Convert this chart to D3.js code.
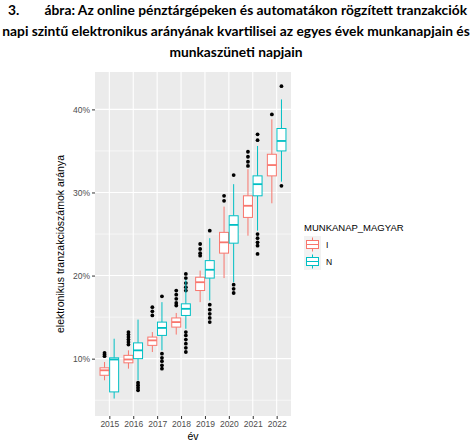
<!DOCTYPE html>
<html>
<head>
<meta charset="utf-8">
<script src="https://cdn.jsdelivr.net/npm/d3@7"></script>
<style>
  body { margin: 0; background: #fff; }
  svg { display: block; }
</style>
</head>
<body>
<svg id="chart" width="474" height="444"></svg>
<script>
// Adatok (leolvasva az ábráról)
const years = ["2015", "2016", "2017", "2018", "2019", "2020", "2021", "2022"];
const groups = ["I", "N"];

// munkanap = I
const iLow    = [0.074, 0.088, 0.108, 0.129, 0.168, 0.197, 0.248, 0.287];
const iQ1     = [0.080, 0.095, 0.116, 0.138, 0.182, 0.227, 0.270, 0.320];
const iMedian = [0.086, 0.099, 0.122, 0.144, 0.192, 0.240, 0.284, 0.333];
const iQ3     = [0.089, 0.104, 0.126, 0.149, 0.198, 0.252, 0.296, 0.346];
const iHigh   = [0.096, 0.110, 0.132, 0.155, 0.206, 0.283, 0.328, 0.388];
const iOut    = [
  [0.103, 0.105, 0.107],
  [0.117, 0.120, 0.123, 0.126, 0.129, 0.132],
  [0.152, 0.157, 0.162],
  [0.164, 0.167, 0.172, 0.177, 0.182],
  [0.224, 0.227, 0.232, 0.238],
  [0.290, 0.296],
  [0.332, 0.337, 0.343, 0.349],
  [0.394]
];

// munkaszüneti nap = N
const nLow    = [0.052, 0.074, 0.110, 0.136, 0.170, 0.192, 0.254, 0.313];
const nQ1     = [0.060, 0.100, 0.128, 0.152, 0.197, 0.239, 0.296, 0.350];
const nMedian = [0.099, 0.110, 0.137, 0.160, 0.207, 0.261, 0.310, 0.362];
const nQ3     = [0.101, 0.119, 0.144, 0.166, 0.218, 0.272, 0.320, 0.377];
const nHigh   = [0.124, 0.147, 0.168, 0.195, 0.245, 0.310, 0.356, 0.412];
const nOut    = [
  [],
  [0.062, 0.065, 0.068, 0.071],
  [0.088, 0.092, 0.097, 0.101, 0.106, 0.175],
  [0.108, 0.113, 0.118, 0.123, 0.128, 0.132, 0.182, 0.186, 0.191, 0.197, 0.202],
  [0.144, 0.149, 0.154, 0.159, 0.165, 0.254],
  [0.179, 0.184, 0.189, 0.321],
  [0.226, 0.236, 0.240, 0.245, 0.250, 0.363, 0.370],
  [0.308, 0.428]
];

const yTicks = [0.1, 0.2, 0.3, 0.4];
const yMinor = [0.05, 0.15, 0.25, 0.35];

const titleLines = [
  "ábra: Az online pénztárgépeken és automatákon rögzített tranzakciók",
  "napi szintű elektronikus arányának kvartilisei az egyes évek munkanapjain és",
  "munkaszüneti napjain"
];

const colors = { I: "#F8766D", N: "#00BFC4" };

const svg = d3.select("#chart");

// --- Cím ---
const title = svg.append("g")
  .style("font-family", "Lato, 'Open Sans', sans-serif")
  .style("font-weight", "bold")
  .style("fill", "#000");

const probe = title.append("text").style("font-size", "14px").text(titleLines[1]);
const fs = 14 * 468 / probe.node().getComputedTextLength();
probe.remove();

title.append("text").attr("x", 8).attr("y", 15).style("font-size", fs + "px").text("3.");
title.append("text").attr("x", 467).attr("y", 15).attr("text-anchor", "end")
  .style("font-size", fs + "px").text(titleLines[0]);
title.append("text").attr("x", 236).attr("y", 36).attr("text-anchor", "middle")
  .style("font-size", fs + "px").text(titleLines[1]);
title.append("text").attr("x", 236).attr("y", 57).attr("text-anchor", "middle")
  .style("font-size", fs + "px").text(titleLines[2]);

// --- Panel ---
const panel = { left: 95, right: 291, top: 72, bottom: 416 };

const x = d3.scalePoint().domain(years).range([panel.left, panel.right]).padding(0.6);
const y = d3.scaleLinear().domain([0.031, 0.445]).range([panel.bottom, panel.top]);
const boxW = 9;
const dodge = { I: -4.8, N: 4.8 };

svg.append("rect")
  .attr("x", panel.left).attr("y", panel.top)
  .attr("width", panel.right - panel.left).attr("height", panel.bottom - panel.top)
  .attr("fill", "#EBEBEB");

const grid = svg.append("g");
grid.selectAll(".minor").data(yMinor).enter().append("line")
  .attr("x1", panel.left).attr("x2", panel.right)
  .attr("y1", d => y(d)).attr("y2", d => y(d))
  .attr("stroke", "#fff").attr("stroke-width", 0.6);
grid.selectAll(".major").data(yTicks).enter().append("line")
  .attr("x1", panel.left).attr("x2", panel.right)
  .attr("y1", d => y(d)).attr("y2", d => y(d))
  .attr("stroke", "#fff").attr("stroke-width", 1.1);
grid.selectAll(".vert").data(years).enter().append("line")
  .attr("x1", d => x(d)).attr("x2", d => x(d))
  .attr("y1", panel.top).attr("y2", panel.bottom)
  .attr("stroke", "#fff").attr("stroke-width", 1.1);

// --- Boxplotok ---
function stats(g) {
  const src = g === "I"
    ? [iLow, iQ1, iMedian, iQ3, iHigh, iOut]
    : [nLow, nQ1, nMedian, nQ3, nHigh, nOut];
  return years.map((yr, i) => ({
    year: yr, group: g,
    low: src[0][i], q1: src[1][i], med: src[2][i], q3: src[3][i], high: src[4][i],
    out: src[5][i]
  }));
}

groups.forEach(g => {
  const data = stats(g);
  const col = colors[g];
  const boxes = svg.append("g").selectAll("g").data(data).enter().append("g")
    .attr("transform", d => `translate(${x(d.year) + dodge[g]},0)`);

  // Kiugró értékek
  boxes.selectAll("circle").data(d => d.out).enter().append("circle")
    .attr("cx", 0).attr("cy", v => y(v)).attr("r", 1.9).attr("fill", "#000");

  boxes.append("line").attr("x1", 0).attr("x2", 0)
    .attr("y1", d => y(d.high)).attr("y2", d => y(d.q3))
    .attr("stroke", col).attr("stroke-width", 1);
  boxes.append("line").attr("x1", 0).attr("x2", 0)
    .attr("y1", d => y(d.q1)).attr("y2", d => y(d.low))
    .attr("stroke", col).attr("stroke-width", 1);
  boxes.append("rect")
    .attr("x", -boxW / 2).attr("width", boxW)
    .attr("y", d => y(d.q3)).attr("height", d => y(d.q1) - y(d.q3))
    .attr("fill", "#fff").attr("stroke", col).attr("stroke-width", 1);
  boxes.append("line").attr("x1", -boxW / 2).attr("x2", boxW / 2)
    .attr("y1", d => y(d.med)).attr("y2", d => y(d.med))
    .attr("stroke", col).attr("stroke-width", 1.8);
});

// --- Tengelyek ---
const axisFont = "'Liberation Sans', Arial, sans-serif";

const yAxis = svg.append("g")
  .attr("transform", `translate(${panel.left},0)`)
  .call(d3.axisLeft(y).tickValues(yTicks).tickFormat(d3.format(".0%")).tickSize(3).tickPadding(2));
yAxis.select(".domain").remove();
yAxis.selectAll("line").attr("stroke", "#333");
yAxis.selectAll("text").attr("fill", "#4d4d4d")
  .style("font-family", axisFont).style("font-size", "8.5px");

const xAxis = svg.append("g")
  .attr("transform", `translate(0,${panel.bottom})`)
  .call(d3.axisBottom(x).tickSize(3).tickPadding(2));
xAxis.select(".domain").remove();
xAxis.selectAll("line").attr("stroke", "#333");
xAxis.selectAll("text").attr("fill", "#4d4d4d")
  .style("font-family", axisFont).style("font-size", "8.5px");

svg.append("text")
  .attr("x", (panel.left + panel.right) / 2).attr("y", 440)
  .attr("text-anchor", "middle")
  .style("font-family", axisFont).style("font-size", "10.5px").attr("fill", "#000")
  .text("év");

svg.append("text")
  .attr("transform", `translate(64,${(panel.top + panel.bottom) / 2}) rotate(-90)`)
  .attr("text-anchor", "middle")
  .style("font-family", axisFont).style("font-size", "10.5px").attr("fill", "#000")
  .text("elektronikus tranzakciószámok aránya");

// --- Jelmagyarázat ---
const legend = svg.append("g").attr("transform", "translate(304,224)");
legend.append("text").attr("x", 0).attr("y", 7)
  .style("font-family", axisFont).style("font-size", "9.5px").attr("fill", "#000")
  .text("MUNKANAP_MAGYAR");

const keys = legend.selectAll(".key").data(groups).enter().append("g")
  .attr("transform", (d, i) => `translate(0,${12 + i * 17})`);
keys.append("rect").attr("width", 17).attr("height", 17).attr("fill", "#F2F2F2");
keys.append("line").attr("x1", 8.5).attr("x2", 8.5).attr("y1", 1.5).attr("y2", 15.5)
  .attr("stroke", d => colors[d]);
keys.append("rect").attr("x", 2.5).attr("y", 4.5).attr("width", 12).attr("height", 8)
  .attr("fill", "#fff").attr("stroke", d => colors[d]);
keys.append("line").attr("x1", 2.5).attr("x2", 14.5).attr("y1", 8.5).attr("y2", 8.5)
  .attr("stroke", d => colors[d]);
keys.append("text").attr("x", 22).attr("y", 12)
  .style("font-family", axisFont).style("font-size", "8.5px").attr("fill", "#000")
  .text(d => d);
</script>
</body>
</html>
